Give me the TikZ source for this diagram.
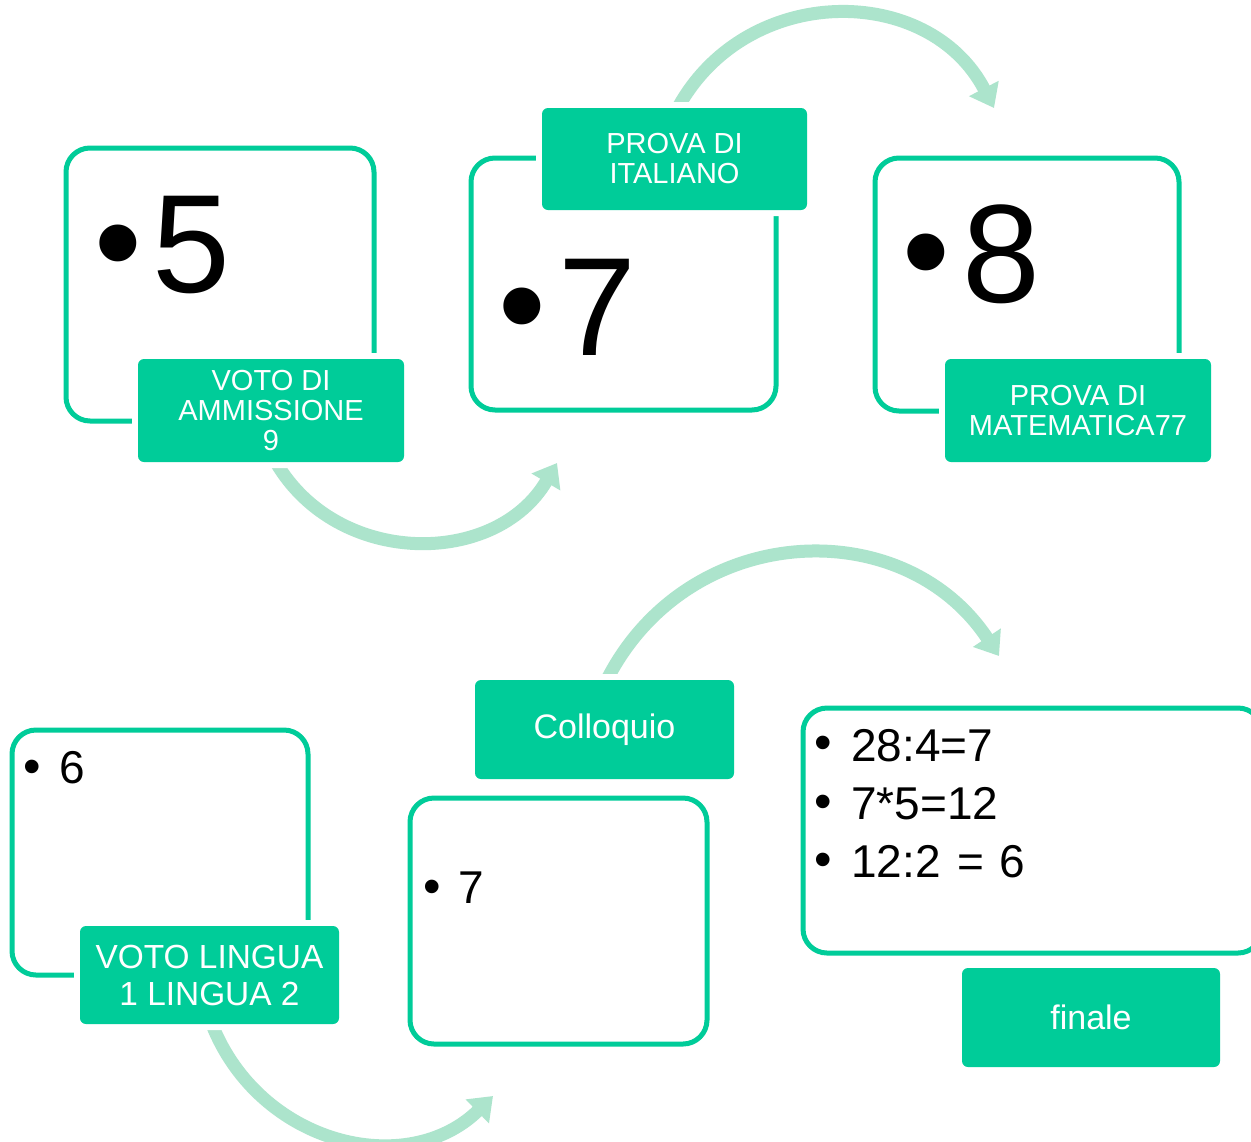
\documentclass[tikz,border=0pt]{standalone}
\usepackage{fontspec}
\setmainfont{Liberation Sans}
\usetikzlibrary{arrows.meta,backgrounds}
\definecolor{mint}{RGB}{0,204,153}
\definecolor{pale}{RGB}{172,228,204}
\begin{document}
\begin{tikzpicture}[x=0.5pt,y=-0.5pt,
  outline/.style={draw=mint, line width=2.5pt, rounded corners=12pt, fill=white, inner sep=0pt},
  tag/.style={fill=mint, rounded corners=3pt, text=white, align=center, inner sep=0pt,
              preaction={draw=white, line width=6pt}},
  tagfont/.style={font={\fontsize{14.5pt}{15pt}\selectfont}},
  bigd/.style={inner sep=0pt, font={\fontsize{70pt}{70pt}\selectfont}},
  bigb/.style={inner sep=0pt, font={\fontsize{68pt}{68pt}\selectfont}},
  sm/.style={inner sep=0pt, font={\fontsize{23pt}{23pt}\selectfont}},
  smb/.style={inner sep=0pt, font={\fontsize{25pt}{25pt}\selectfont}},
  flow/.style={draw=pale, line width=6.5pt, -{Triangle[width=16pt,length=11pt]}}]
\path[use as bounding box] (0,0) rectangle (1251,1141);
% outline boxes
\node[outline, minimum width=154pt, minimum height=136.5pt] (B1) at (220,284.5) {};
\node[outline, minimum width=152.5pt, minimum height=126pt] (B2) at (623.5,284) {};
\node[outline, minimum width=152pt, minimum height=126.5pt] (B3) at (1027,284.5) {};
\node[outline, minimum width=148pt, minimum height=122.5pt] (B4) at (160,852.5) {};
\node[outline, minimum width=148.5pt, minimum height=123pt] (B5) at (558.5,921) {};
\node[outline, minimum width=229.5pt, minimum height=122.5pt] (B6) at (1032.5,830.5) {};
% labels
\node[tag, tagfont, minimum width=133pt, minimum height=51.5pt] (L1) at (271,410.5) {VOTO DI\\AMMISSIONE\\9};
\node[tag, tagfont, minimum width=132.5pt, minimum height=51pt] (L2) at (674.5,159) {PROVA DI\\ITALIANO};
\node[tag, tagfont, minimum width=133pt, minimum height=51.5pt] (L3) at (1078,410.5) {PROVA DI\\MATEMATICA77};
\node[tag, font={\fontsize{16.7pt}{18.5pt}\selectfont}, minimum width=129.5pt, minimum height=49pt] (L4) at (209.5,975) {VOTO LINGUA\\1 LINGUA 2};
\node[tag, font={\fontsize{17pt}{18pt}\selectfont}, minimum width=129.5pt, minimum height=49.5pt] (L5) at (604.5,729.5) {Colloquio};
\node[tag, font={\fontsize{17pt}{18pt}\selectfont}, minimum width=129pt, minimum height=49.5pt] (L6) at (1091,1017.5) {finale};
% contents
\node[bigb] (u1) at (118,257) {•};
\node[bigd, anchor=base west] (t1) at (152,292) {5};
\node[bigb] (u2) at (522,320) {•};
\node[bigd, anchor=base west] (t2) at (558,355) {7};
\node[bigb] (u3) at (926,266) {•};
\node[bigd, anchor=base west] (t3) at (962,302) {8};
\node[smb] (u4) at (32,772) {•};
\node[sm, anchor=base west] (t4) at (59,783) {6};
\node[smb] (u5) at (432,892) {•};
\node[sm, anchor=base west] (t5) at (458,903) {7};
\node[smb] (u6a) at (823,748) {•};
\node[sm, anchor=base west] (t6a) at (851,761) {28:4=7};
\node[smb] (u6b) at (823,807) {•};
\node[sm, anchor=base west] (t6b) at (851,819) {7*5=12};
\node[smb] (u6c) at (823,865) {•};
\node[sm, anchor=base west] (t6c) at (851,877) {12:2\hspace{2pt} = \hspace{1pt}6};
% arrow ends
\coordinate (a1e) at (557,463);
\coordinate (a2e) at (994,108);
\coordinate (a3e) at (493,1096);
\coordinate (a4e) at (999,656);
\begin{scope}[on background layer]
\fill[white] (0,0) rectangle (1251,1141);
\draw[flow] ([xshift=2.5pt]L1.south) .. controls (338,568) and (496,567) .. (a1e);
\draw[flow] ([xshift=1.75pt]L2.north) .. controls (747,-18) and (929,-17) .. (a2e);
\draw[flow] ([xshift=1.25pt]L4.south) .. controls (260,1145) and (407,1180) .. (a3e);
\draw[flow] ([xshift=1.25pt]L5.north) .. controls (688,521) and (903,511) .. (a4e);
\end{scope}
\end{tikzpicture}
\end{document}
